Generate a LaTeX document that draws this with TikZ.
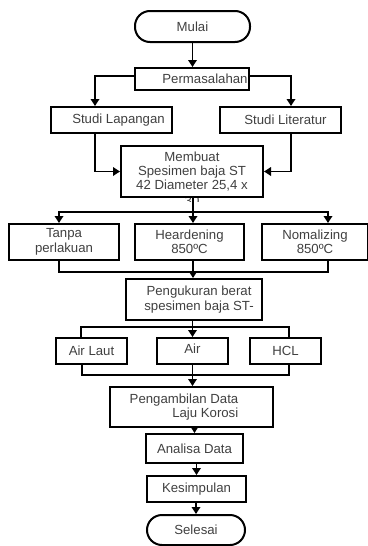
\documentclass[tikz,border=0pt]{standalone}
\usepackage{fontspec}
\setmainfont{Liberation Sans}
\usetikzlibrary{arrows.meta,calc}
\begin{document}
\begin{tikzpicture}[x=1pt,y=-1pt,
  txt/.style={text=black!75, font=\fontsize{13.2}{14.4}\selectfont, inner sep=0pt},
  box/.style={txt, draw=black, line width=2pt, rectangle, align=center},
  term/.style={box, rounded corners=15pt},
  line/.style={draw=black, line width=1.7pt},
  arr/.style={line, -{Triangle[length=7pt,width=8.5pt]}}]
\useasboundingbox (0,0) rectangle (367,546);
% nodes
\node[term, minimum width=115pt, minimum height=31pt] (mulai) at (192.5,26.5) {Mulai};
\node[box, minimum width=114pt, minimum height=22pt,
      label={[txt,xshift=13pt]center:Permasalahan}] (perm) at (192,79) {};
\node[box, minimum width=121pt, minimum height=26pt,
      label={[txt,xshift=7pt]center:Studi Lapangan}] (lap) at (111.5,120) {};
\node[box, minimum width=121pt, minimum height=26pt,
      label={[txt,xshift=5pt]center:Studi Literatur}] (lit) at (280.5,120) {};
\node[box, minimum width=142pt, minimum height=51pt] (memb) at (192,171.5)
      {Membuat\\Spesimen baja ST\\42 Diameter 25,4 x};
\begin{scope}
  \clip (121,198) rectangle (263,201);
  \node[txt, anchor=base] (memb30) at (192,205.6) {30};
\end{scope}
\node[box, minimum width=110pt, minimum height=36pt] (tanpa) at (64,242) {Tanpa\\perlakuan};
\node[box, minimum width=109pt, minimum height=36pt] (heard) at (189.5,242) {Heardening\\850ºC};
\node[box, minimum width=106pt, minimum height=36pt] (nomal) at (315,242) {Nomalizing\\850ºC};
\node[box, minimum width=136pt, minimum height=41pt,
      label={[txt,xshift=5pt,align=center]center:Pengukuran berat\\spesimen baja ST-}] (peng) at (194,299.5) {};
\node[box, minimum width=71pt, minimum height=26pt] (airl) at (91.5,351) {Air Laut};
\node[box, minimum width=71pt, minimum height=26pt,
      label={[txt,yshift=2.5pt]center:Air}] (air) at (192.5,351) {};
\node[box, minimum width=71pt, minimum height=26pt] (hcl) at (285.5,351) {HCL};
\node[box, minimum width=163pt, minimum height=40pt,
      label={[txt,xshift=-7.5pt,align=right]center:Pengambilan Data\\Laju Korosi}] (ambil) at (191.5,407) {};
\node[box, minimum width=97pt, minimum height=29pt] (ana) at (194.5,448.5) {Analisa Data};
\node[box, minimum width=99pt, minimum height=26pt] (kes) at (196.5,489) {Kesimpulan};
\node[term, minimum width=98pt, minimum height=30pt] (sel) at (196,530) {Selesai};
% bus coordinates
\coordinate (bus1) at (193,212);
\coordinate (bus2) at (193,272);
\coordinate (bus3) at (192.5,327);
\coordinate (bus4) at (192.5,375);
% connectors
\draw[arr] (mulai.south) -- (mulai.south |- perm.north);
\draw[arr] ([yshift=3pt]perm.west) -| ([xshift=-16.5pt]lap.north);
\draw[arr] ([yshift=3pt]perm.east) -| ([xshift=10.5pt]lit.north);
\draw[arr] ([xshift=-16.5pt]lap.south) |- (memb.west);
\draw[arr] ([xshift=10.5pt]lit.south) |- (memb.east);
\draw[line] (memb.south -| bus1) -- (bus1);
\draw[arr] (bus1) -- (bus1 |- heard.north);
\draw[arr] (bus1) -| ([xshift=-5pt]tanpa.north);
\draw[arr] (bus1) -| ([xshift=13pt]nomal.north);
\draw[line] ([xshift=-5pt]tanpa.south) |- (bus2) -| ([xshift=13pt]nomal.south);
\draw[line] (heard.south -| bus2) -- (bus2);
\draw[arr] (bus2) -- (bus2 |- peng.north);
\draw[arr] (peng.south -| air) -- (air.north);
\draw[line] ([xshift=-10.5pt]airl.north) |- (bus3) -| ([xshift=3.5pt]hcl.north);
\draw[line] ([xshift=-9.5pt]airl.south) |- (bus4) -| ([xshift=3.5pt]hcl.south);
\draw[line] (air.south) -- (bus4);
\draw[arr] (bus4) -- (bus4 |- ambil.north);
\draw[arr] (ambil.south -| ana) -- (ana.north);
\draw[arr] (ana.south -| kes) -- (kes.north);
\draw[arr] (kes.south -| sel) -- (sel.north);
\end{tikzpicture}
\end{document}
